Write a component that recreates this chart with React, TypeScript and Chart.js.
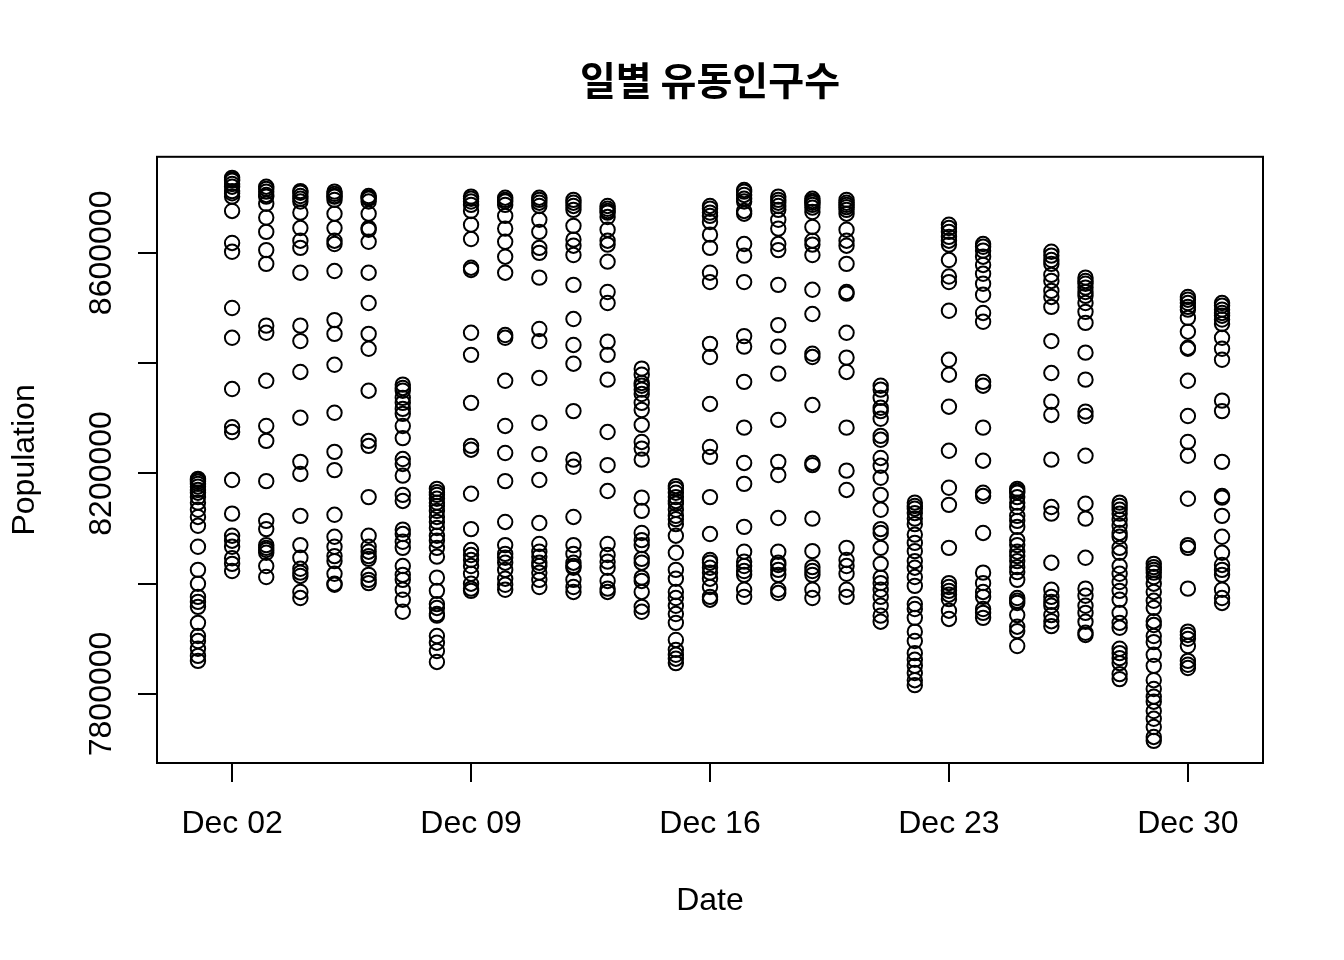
import React, { useEffect, useRef } from 'react';
import { Chart, registerables } from 'chart.js';

Chart.register(...registerables);

const chartTitle = '일별 유동인구수';
const xAxisTitle = 'Date';
const yAxisTitle = 'Population';

const dayNumbers = [1, 2, 3, 4, 5, 6, 7, 8, 9, 10, 11, 12, 13, 14, 15, 16, 17, 18, 19, 20, 21, 22, 23, 24, 25, 26, 27, 28, 29, 30, 31];
const xTickDays = [2, 9, 16, 23, 30];
const xTickLabels = ['Dec 02', 'Dec 09', 'Dec 16', 'Dec 23', 'Dec 30'];
const yTickValues = [7800000, 8000000, 8200000, 8400000, 8600000];
const yTickLabels = ['7800000', '', '8200000', '', '8600000'];

const dec01 = [8190000, 8188000, 8185000, 8181000, 8176000, 8170000, 8165000, 8157000, 8147000, 8134000, 8121000, 8105000, 8067000, 8025000, 8000000, 7976000, 7967000, 7958000, 7929000, 7905000, 7896000, 7882000, 7869000, 7860000];
const dec02 = [8736000, 8733000, 8731000, 8725000, 8720000, 8712000, 8708000, 8702000, 8676000, 8618000, 8602000, 8500000, 8446000, 8353000, 8284000, 8275000, 8188000, 8127000, 8087000, 8078000, 8067000, 8046000, 8036000, 8023000];
const dec03 = [8720000, 8716000, 8711000, 8705000, 8702000, 8689000, 8664000, 8638000, 8605000, 8580000, 8468000, 8455000, 8368000, 8286000, 8259000, 8186000, 8114000, 8099000, 8070000, 8065000, 8061000, 8056000, 8032000, 8012000];
const dec04 = [8712000, 8709000, 8703000, 8698000, 8693000, 8673000, 8645000, 8622000, 8609000, 8564000, 8468000, 8440000, 8384000, 8301000, 8221000, 8199000, 8123000, 8070000, 8047000, 8027000, 8020000, 8014000, 7985000, 7974000];
const dec05 = [8711000, 8707000, 8703000, 8702000, 8696000, 8671000, 8645000, 8622000, 8616000, 8567000, 8478000, 8453000, 8397000, 8310000, 8239000, 8206000, 8125000, 8085000, 8067000, 8050000, 8041000, 8018000, 8000000, 7998000];
const dec06 = [8703000, 8700000, 8698000, 8693000, 8671000, 8645000, 8642000, 8620000, 8564000, 8509000, 8453000, 8426000, 8350000, 8259000, 8250000, 8157000, 8087000, 8067000, 8058000, 8050000, 8045000, 8016000, 8007000, 8001000];
const dec07 = [8361000, 8355000, 8350000, 7989000, 8337000, 8328000, 8317000, 8308000, 8286000, 8264000, 8226000, 8217000, 8196000, 8161000, 8150000, 8098000, 8090000, 8076000, 8065000, 8032000, 8016000, 8007000, 7971000, 7949000];
const dec08 = [8172000, 8166000, 8161000, 8154000, 8147000, 8141000, 8132000, 8121000, 8112000, 8101000, 8087000, 8078000, 8065000, 8049000, 8011000, 7987000, 7963000, 7956000, 7945000, 7942000, 7905000, 7893000, 7878000, 7858000];
const dec09 = [8702000, 8698000, 8693000, 8687000, 8676000, 8651000, 8625000, 8573000, 8569000, 8455000, 8415000, 8328000, 8250000, 8243000, 8163000, 8099000, 8061000, 8052000, 8043000, 8032000, 8018000, 8000000, 7991000, 7987000];
const dec10 = [8700000, 8696000, 8693000, 8687000, 8667000, 8644000, 8620000, 8593000, 8564000, 8451000, 8446000, 8368000, 8286000, 8237000, 8186000, 8112000, 8070000, 8054000, 8047000, 8038000, 8025000, 8009000, 7998000, 7989000];
const dec11 = [8700000, 8696000, 8691000, 8685000, 8660000, 8638000, 8609000, 8600000, 8555000, 8462000, 8440000, 8373000, 8292000, 8235000, 8188000, 8110000, 8072000, 8058000, 8049000, 8038000, 8032000, 8020000, 8007000, 7994000];
const dec12 = [8696000, 8691000, 8685000, 8678000, 8649000, 8624000, 8613000, 8596000, 8542000, 8480000, 8433000, 8399000, 8313000, 8225000, 8212000, 8121000, 8070000, 8054000, 8038000, 8032000, 8029000, 8007000, 7994000, 7985000];
const dec13 = [8685000, 8680000, 8676000, 8673000, 8665000, 8642000, 8622000, 8615000, 8584000, 8529000, 8509000, 8439000, 8415000, 8370000, 8275000, 8215000, 8168000, 8072000, 8052000, 8040000, 8029000, 8005000, 7991000, 7985000];
const dec14 = [8390000, 8379000, 8364000, 8359000, 8352000, 8344000, 8328000, 8315000, 8288000, 8257000, 8245000, 8225000, 8156000, 8132000, 8092000, 8079000, 8070000, 8045000, 8038000, 8011000, 8005000, 7985000, 7958000, 7949000];
const dec15 = [8177000, 8172000, 8165000, 8157000, 8150000, 8145000, 8134000, 8123000, 8117000, 8108000, 8087000, 8056000, 8025000, 8009000, 7985000, 7974000, 7960000, 7945000, 7929000, 7898000, 7880000, 7871000, 7864000, 7856000];
const dec16 = [8685000, 8680000, 8673000, 8667000, 8656000, 8633000, 8609000, 8564000, 8547000, 8435000, 8411000, 8326000, 8248000, 8230000, 8157000, 8090000, 8043000, 8038000, 8029000, 8020000, 8009000, 7994000, 7976000, 7971000];
const dec17 = [8714000, 8711000, 8705000, 8698000, 8693000, 8676000, 8671000, 8616000, 8595000, 8547000, 8449000, 8430000, 8366000, 8283000, 8219000, 8181000, 8103000, 8058000, 8040000, 8032000, 8023000, 8016000, 7989000, 7976000];
const dec18 = [8702000, 8696000, 8691000, 8685000, 8678000, 8660000, 8644000, 8616000, 8605000, 8542000, 8469000, 8430000, 8381000, 8297000, 8221000, 8197000, 8119000, 8058000, 8038000, 8034000, 8025000, 8016000, 7989000, 7983000];
const dec19 = [8698000, 8694000, 8691000, 8687000, 8682000, 8674000, 8647000, 8622000, 8615000, 8596000, 8533000, 8489000, 8417000, 8411000, 8324000, 8219000, 8215000, 8118000, 8059000, 8030000, 8023000, 8016000, 7989000, 7974000];
const dec20 = [8696000, 8691000, 8687000, 8683000, 8678000, 8671000, 8642000, 8622000, 8613000, 8580000, 8529000, 8526000, 8455000, 8410000, 8384000, 8283000, 8205000, 8170000, 8065000, 8043000, 8032000, 8018000, 7989000, 7976000];
const dec21 = [8359000, 8352000, 8337000, 8319000, 8313000, 8299000, 8268000, 8261000, 8228000, 8214000, 8192000, 8161000, 8134000, 8099000, 8092000, 8065000, 8036000, 8011000, 8001000, 7989000, 7976000, 7960000, 7942000, 7931000];
const dec22 = [8147000, 8141000, 8136000, 8128000, 8118000, 8108000, 8089000, 8074000, 8059000, 8041000, 8029000, 8012000, 7996000, 7963000, 7954000, 7938000, 7913000, 7896000, 7874000, 7862000, 7851000, 7838000, 7825000, 7816000];
const dec23 = [8651000, 8645000, 8638000, 8629000, 8622000, 8615000, 8587000, 8557000, 8547000, 8495000, 8406000, 8379000, 8321000, 8241000, 8174000, 8143000, 8065000, 8001000, 7994000, 7987000, 7980000, 7972000, 7951000, 7936000];
const dec24 = [8616000, 8611000, 8604000, 8593000, 8578000, 8562000, 8544000, 8524000, 8491000, 8475000, 8366000, 8359000, 8283000, 8223000, 8165000, 8159000, 8092000, 8020000, 8001000, 7985000, 7976000, 7954000, 7947000, 7938000];
const dec25 = [8172000, 8168000, 8165000, 8157000, 8147000, 8139000, 8123000, 8114000, 8103000, 8079000, 8070000, 8058000, 8050000, 8041000, 8030000, 8021000, 8007000, 7974000, 7969000, 7965000, 7943000, 7922000, 7914000, 7887000];
const dec26 = [8602000, 8595000, 8587000, 8580000, 8560000, 8549000, 8531000, 8520000, 8502000, 8440000, 8382000, 8330000, 8306000, 8225000, 8139000, 8127000, 8038000, 7989000, 7976000, 7967000, 7960000, 7943000, 7932000, 7923000];
const dec27 = [8555000, 8549000, 8544000, 8537000, 8529000, 8522000, 8509000, 8493000, 8473000, 8419000, 8370000, 8312000, 8304000, 8232000, 8145000, 8118000, 8047000, 7991000, 7978000, 7960000, 7947000, 7931000, 7911000, 7907000];
const dec28 = [8147000, 8141000, 8134000, 8127000, 8116000, 8105000, 8092000, 8085000, 8065000, 8056000, 8032000, 8018000, 8003000, 7987000, 7971000, 7947000, 7929000, 7920000, 7882000, 7874000, 7865000, 7856000, 7836000, 7827000];
const dec29 = [8036000, 8030000, 8025000, 8020000, 8012000, 8000000, 7985000, 7969000, 7956000, 7932000, 7925000, 7905000, 7894000, 7871000, 7851000, 7825000, 7809000, 7795000, 7786000, 7769000, 7755000, 7740000, 7722000, 7715000];
const dec30 = [8520000, 8515000, 8509000, 8502000, 8497000, 8482000, 8457000, 8428000, 8426000, 8368000, 8304000, 8257000, 8232000, 8154000, 8070000, 8065000, 7991000, 7913000, 7907000, 7900000, 7887000, 7860000, 7853000, 7847000];
const dec31 = [8509000, 8504000, 8497000, 8491000, 8486000, 8479000, 8471000, 8446000, 8426000, 8406000, 8332000, 8313000, 8221000, 8159000, 8156000, 8123000, 8085000, 8056000, 8034000, 8025000, 8016000, 7989000, 7974000, 7965000];

const populationByDay = [dec01, dec02, dec03, dec04, dec05, dec06, dec07, dec08, dec09, dec10, dec11, dec12, dec13, dec14, dec15, dec16, dec17, dec18, dec19, dec20, dec21, dec22, dec23, dec24, dec25, dec26, dec27, dec28, dec29, dec30, dec31];

const FONT = '"Liberation Sans", Arial, Helvetica, sans-serif';

const boxPlugin = {
  id: 'rBox',
  afterDatasetsDraw(chart: any) {
    const { ctx, chartArea } = chart;
    ctx.save();
    ctx.strokeStyle = '#000';
    ctx.lineWidth = 2;
    ctx.strokeRect(chartArea.left, chartArea.top, chartArea.right - chartArea.left, chartArea.bottom - chartArea.top);
    ctx.restore();
  },
};

export default function App() {
  const canvasRef = useRef<HTMLCanvasElement | null>(null);

  useEffect(() => {
    if (!canvasRef.current) return;
    const points: { x: number; y: number }[] = [];
    populationByDay.forEach((vals, i) => {
      vals.forEach((v) => points.push({ x: dayNumbers[i], y: v }));
    });

    const chart = new Chart(canvasRef.current, {
      type: 'scatter',
      data: {
        datasets: [
          {
            data: points,
            pointStyle: 'circle',
            pointRadius: 7.2,
            pointHoverRadius: 7.2,
            pointBorderWidth: 2,
            borderColor: '#000',
            backgroundColor: 'rgba(0,0,0,0)',
          },
        ],
      },
      plugins: [boxPlugin],
      options: {
        animation: false,
        responsive: false,
        devicePixelRatio: 1,
        events: [],
        layout: { padding: { left: 0, right: 81, top: 0, bottom: 0 } },
        plugins: {
          legend: { display: false },
          tooltip: { enabled: false },
          title: {
            display: true,
            fullSize: false,
            text: chartTitle,
            color: '#000',
            font: { family: '"Noto Sans CJK KR", sans-serif', size: 39, weight: 'bold', lineHeight: 1.2 },
            padding: { top: 57, bottom: 53 },
          },
        },
        scales: {
          x: {
            type: 'linear',
            min: -0.2,
            max: 32.2,
            afterBuildTicks: (s: any) => {
              s.ticks = xTickDays.map((v) => ({ value: v }));
            },
            afterFit: (s: any) => {
              s.height = 197;
            },
            ticks: {
              color: '#000',
              font: { family: FONT, size: 32 },
              padding: 23,
              autoSkip: false,
              maxRotation: 0,
              minRotation: 0,
              callback: (_v: any, i: number) => xTickLabels[i],
            },
            grid: { display: true, drawOnChartArea: false, drawTicks: true, tickLength: 19, color: '#000', lineWidth: 2 },
            border: { display: false },
            title: {
              display: true,
              text: xAxisTitle,
              color: '#000',
              font: { family: FONT, size: 32, lineHeight: 1.2 },
              padding: { top: 0, bottom: 40 },
            },
          },
          y: {
            type: 'linear',
            min: 7674800,
            max: 8774200,
            afterBuildTicks: (s: any) => {
              s.ticks = yTickValues.map((v) => ({ value: v }));
            },
            afterFit: (s: any) => {
              s.width = 157;
            },
            ticks: {
              color: '#000',
              font: { family: FONT, size: 32 },
              padding: -26,
              autoSkip: false,
              minRotation: 90,
              maxRotation: 90,
              crossAlign: 'center',
              callback: (_v: any, i: number) => yTickLabels[i],
            },
            grid: { display: true, drawOnChartArea: false, drawTicks: true, tickLength: 19, color: '#000', lineWidth: 2 },
            border: { display: false },
            title: {
              display: true,
              text: yAxisTitle,
              color: '#000',
              font: { family: FONT, size: 32, lineHeight: 1.2 },
              padding: { top: 6, bottom: 0 },
            },
          },
        },
      } as any,
    });
    return () => chart.destroy();
  }, []);

  return (
    <div style={{ position: 'absolute', left: 0, top: 0, width: 1344, height: 960, background: '#fff' }}>
      <canvas ref={canvasRef} width={1344} height={960} />
    </div>
  );
}
